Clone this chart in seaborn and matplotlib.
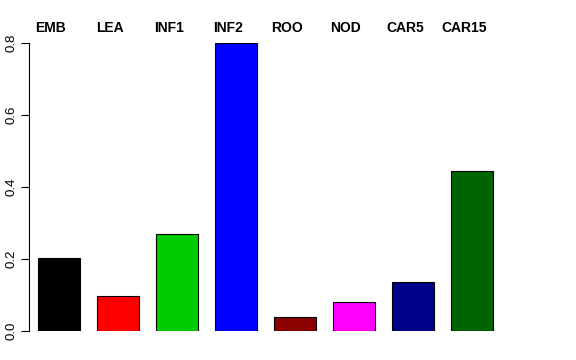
import matplotlib
matplotlib.use('Agg')
import matplotlib.pyplot as plt
import seaborn as sns
import pandas as pd

categories = ['EMB', 'LEA', 'INF1', 'INF2', 'ROO', 'NOD', 'CAR5', 'CAR15']
values = [0.203, 0.097, 0.270, 0.800, 0.039, 0.080, 0.136, 0.444]
colors = ['#000000', '#FF0000', '#00CD00', '#0000FF', '#8B0000', '#FF00FF', '#00008B', '#006400']

df = pd.DataFrame({'tissue': categories, 'value': values})

sns.set_style('white')
plt.rcParams['font.family'] = ['Liberation Sans', 'DejaVu Sans']
plt.rcParams['text.color'] = 'black'
plt.rcParams['ytick.color'] = 'black'
plt.rcParams['ytick.labelcolor'] = 'black'

fig = plt.figure(figsize=(5.76, 3.6), dpi=100)
ax = fig.add_axes([29 / 576, 29 / 360, (547 - 29) / 576, 288 / 360])

sns.barplot(x='tissue', y='value', data=df, hue='tissue', palette=colors,
            legend=False, width=0.71, edgecolor='black', linewidth=0.8,
            saturation=1, ax=ax)

ax.set_xlim(-0.508, 8.27)
ax.set_ylim(0, 0.8)

for i, name in enumerate(categories):
    ax.text(i - 0.14, 0.842, name, ha='center', va='center', color='black',
            fontsize=10, fontweight='bold', clip_on=False)

for s in ['top', 'right', 'bottom']:
    ax.spines[s].set_visible(False)
ax.spines['left'].set_bounds(0, 0.8)
ax.spines['left'].set_color('black')
ax.spines['left'].set_linewidth(0.8)

ax.set_yticks([0.0, 0.2, 0.4, 0.6, 0.8])
ax.set_yticklabels(['0.0', '0.2', '0.4', '0.6', '0.8'], rotation=90, va='center',
                   fontsize=9.5, color='black')
ax.tick_params(axis='y', left=True, length=5.5, width=0.8, color='black', pad=3)
ax.set_xticks([])
ax.set_xlabel('')
ax.set_ylabel('')

fig.savefig('out.png', dpi=100)
